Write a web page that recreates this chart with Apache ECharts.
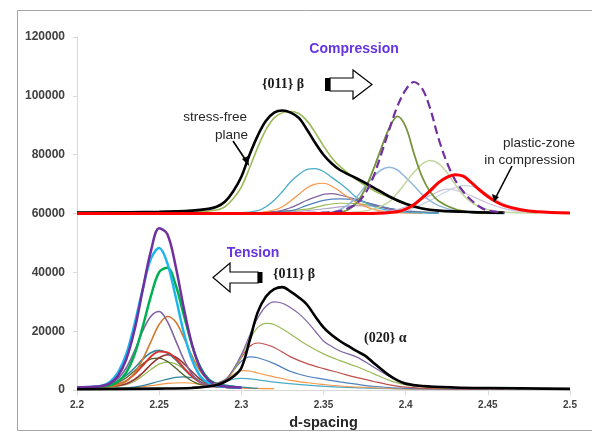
<!DOCTYPE html>
<html><head><meta charset="utf-8">
<script src="https://cdn.jsdelivr.net/npm/echarts@6/dist/echarts.min.js"></script>
<style>html,body{margin:0;padding:0;background:#fff}#c{width:592px;height:435px}</style>
</head><body><div id="c"></div>
<script>
// ---- axis ticks ----
const xTicks = [2.2, 2.25, 2.3, 2.35, 2.4, 2.45, 2.5];
const yTicks = [0, 20000, 40000, 60000, 80000, 100000, 120000];

// ---- Compression (top, baseline 60000) ----
const compFan1 = [[2.28,60000],[2.32,60600],[2.33,62000],[2.34,64500],[2.35,66500],[2.355,66800],[2.36,66300],[2.37,64800],[2.38,63000],[2.39,61500],[2.40,60700],[2.42,60200]];
const compFan2 = [[2.29,60000],[2.33,61000],[2.34,62800],[2.35,64500],[2.36,65000],[2.37,64500],[2.38,63200],[2.39,61800],[2.40,60800],[2.42,60200]];
const compFan3 = [[2.30,60000],[2.34,61500],[2.35,62800],[2.36,63500],[2.37,63400],[2.38,62700],[2.39,61700],[2.40,60800],[2.42,60200]];
const compFan4 = [[2.30,60000],[2.34,61000],[2.36,62300],[2.37,62700],[2.38,62500],[2.39,61800],[2.40,61000],[2.42,60300]];
const compOrange = [[2.25,60000],[2.31,60300],[2.32,61200],[2.325,62300],[2.33,64300],[2.335,66500],[2.34,68800],[2.345,70000],[2.35,70300],[2.355,69300],[2.36,67500],[2.365,65500],[2.37,63800],[2.38,61500],[2.39,60500],[2.41,60100]];
const compCyan = [[2.25,60000],[2.30,60300],[2.31,61000],[2.315,62300],[2.32,64500],[2.325,67500],[2.33,70800],[2.335,73300],[2.34,75000],[2.345,75300],[2.35,74300],[2.355,72300],[2.36,70300],[2.365,68000],[2.37,65500],[2.38,62500],[2.39,61000],[2.40,60400],[2.42,60100]];
const compLavender = [[2.36,60000],[2.39,60800],[2.40,62300],[2.41,64800],[2.42,67500],[2.425,68300],[2.43,68000],[2.44,66000],[2.45,63500],[2.46,61700],[2.47,60700],[2.49,60200]];
const compGray = [[2.38,60000],[2.40,61000],[2.415,64500],[2.425,67500],[2.435,69500],[2.44,69300],[2.45,66500],[2.46,63300],[2.47,61300],[2.48,60500]];
const compLightBlue = [[2.33,60000],[2.355,60500],[2.36,61300],[2.365,63000],[2.37,65500],[2.375,69000],[2.38,72300],[2.385,74800],[2.39,75700],[2.395,74800],[2.40,72300],[2.405,69500],[2.41,66500],[2.415,64300],[2.42,62700],[2.43,61000],[2.44,60300],[2.46,60000]];
const compPaleGreen = [[2.35,60000],[2.37,60500],[2.38,61500],[2.39,64000],[2.395,67000],[2.40,70500],[2.405,74000],[2.41,76800],[2.415,78000],[2.42,77000],[2.425,74000],[2.43,70000],[2.435,66300],[2.44,63800],[2.445,62300],[2.45,61300],[2.46,60500],[2.48,60100]];
const compOliveTall = [[2.34,60000],[2.36,60500],[2.365,61300],[2.37,63500],[2.375,68000],[2.38,74500],[2.385,82000],[2.39,89000],[2.395,93000],[2.40,89500],[2.405,80500],[2.41,72500],[2.415,67300],[2.42,64300],[2.43,61500],[2.44,60500],[2.46,60100]];
const compDashed = [[2.30,60000],[2.35,60300],[2.36,60800],[2.365,61800],[2.37,63300],[2.375,66500],[2.38,72000],[2.385,80000],[2.39,88500],[2.395,96500],[2.40,102000],[2.405,104700],[2.41,102500],[2.415,95500],[2.42,85500],[2.425,77500],[2.43,71500],[2.435,67500],[2.44,64500],[2.445,62300],[2.45,61000],[2.46,60400]];
const compOlive = [[2.20,60300],[2.27,60500],[2.285,61200],[2.29,62300],[2.295,65000],[2.30,69000],[2.305,75500],[2.31,82500],[2.315,88500],[2.32,92500],[2.325,94300],[2.33,94700],[2.335,94000],[2.34,91500],[2.345,87500],[2.35,83000],[2.355,79000],[2.36,76000],[2.37,71500],[2.38,68000],[2.39,65500],[2.40,63200],[2.41,61800],[2.42,61000],[2.44,60500],[2.46,60300]];
const compBlack = [[2.20,60300],[2.25,60600],[2.27,61000],[2.28,61600],[2.285,62300],[2.29,64000],[2.295,67500],[2.30,72500],[2.305,80000],[2.31,86500],[2.315,91500],[2.32,94300],[2.325,95000],[2.33,94300],[2.335,92500],[2.34,88500],[2.345,84000],[2.35,80000],[2.355,77000],[2.36,74800],[2.37,72000],[2.38,69000],[2.39,65800],[2.40,63300],[2.41,61700],[2.42,61000],[2.44,60500],[2.46,60300]];
const compRed = [[2.20,60000],[2.38,60000],[2.395,60600],[2.40,61500],[2.405,63000],[2.41,65300],[2.415,67800],[2.42,70500],[2.425,72300],[2.43,73200],[2.435,72700],[2.44,70500],[2.445,68000],[2.45,65800],[2.455,64000],[2.46,62700],[2.47,61300],[2.48,60600],[2.50,60200]];

// ---- Tension (bottom) ----
const tenSmallOrange = [[2.20,600],[2.23,700],[2.245,1500],[2.255,2300],[2.265,2500],[2.275,2000],[2.285,1200],[2.30,700],[2.32,500]];
const tenSmallTeal = [[2.20,600],[2.23,800],[2.24,1500],[2.25,3000],[2.26,4300],[2.265,4500],[2.27,4200],[2.28,3000],[2.29,1800],[2.30,1000],[2.31,600]];
const tenOlive = [[2.20,800],[2.22,1100],[2.23,1900],[2.235,3000],[2.24,4900],[2.245,7000],[2.25,8800],[2.255,9500],[2.26,8900],[2.265,7200],[2.27,5000],[2.275,3100],[2.28,1800],[2.29,1000],[2.30,700]];
const tenDarkOlive = [[2.20,800],[2.215,1100],[2.22,1600],[2.225,2600],[2.23,4200],[2.235,6500],[2.24,8900],[2.245,10600],[2.25,10900],[2.255,9700],[2.26,7500],[2.265,5100],[2.27,3100],[2.275,1900],[2.28,1300],[2.29,1000],[2.30,700]];
const tenDarkRed = [[2.20,800],[2.22,1200],[2.225,1500],[2.23,2200],[2.235,3600],[2.24,5900],[2.245,8700],[2.25,11000],[2.255,12000],[2.26,11300],[2.265,9000],[2.27,6200],[2.275,3700],[2.28,2000],[2.285,1300],[2.29,1000],[2.30,700]];
const tenTeal = [[2.20,800],[2.21,1100],[2.215,1300],[2.22,1900],[2.225,3100],[2.23,5000],[2.235,7500],[2.24,10500],[2.245,12700],[2.25,13500],[2.255,12600],[2.26,10300],[2.265,7300],[2.27,4600],[2.275,2700],[2.28,1700],[2.29,1000],[2.30,700]];
const tenRed = [[2.20,800],[2.215,1100],[2.22,1400],[2.225,2000],[2.23,3200],[2.235,5400],[2.24,8300],[2.245,11400],[2.25,13100],[2.255,12800],[2.26,10800],[2.265,7600],[2.27,4700],[2.275,2600],[2.28,1500],[2.29,1000],[2.30,700]];
const tenBrown = [[2.20,900],[2.215,1100],[2.22,1200],[2.225,1800],[2.23,3000],[2.235,5700],[2.24,10500],[2.245,16500],[2.25,22300],[2.255,25000],[2.26,23200],[2.265,17800],[2.27,11600],[2.275,6400],[2.28,3400],[2.285,1900],[2.29,1200],[2.30,900]];
const tenPurpleThin = [[2.20,900],[2.215,1500],[2.22,2100],[2.225,4000],[2.23,7600],[2.235,13300],[2.24,20100],[2.245,25100],[2.25,26700],[2.255,23300],[2.26,16900],[2.265,10400],[2.27,5400],[2.275,2700],[2.28,1500],[2.29,1000],[2.30,800]];
const tenGreen = [[2.20,900],[2.21,1000],[2.215,1200],[2.22,1600],[2.225,2900],[2.23,6000],[2.235,12100],[2.24,21500],[2.245,32000],[2.25,40100],[2.255,41600],[2.26,35800],[2.265,25500],[2.27,15300],[2.275,7800],[2.28,3700],[2.285,2000],[2.29,1200],[2.30,900]];
const tenCyan = [[2.20,900],[2.21,1100],[2.215,1500],[2.22,2800],[2.225,6000],[2.23,12300],[2.235,22400],[2.24,34300],[2.245,44700],[2.25,48300],[2.255,43100],[2.26,31800],[2.265,19500],[2.27,10300],[2.275,4700],[2.28,2400],[2.285,1500],[2.29,1100],[2.30,900]];
const tenPurple = [[2.20,900],[2.21,1100],[2.215,1400],[2.22,2300],[2.225,4900],[2.23,10500],[2.235,20400],[2.24,34100],[2.245,47300],[2.25,55000],[2.255,53000],[2.26,42200],[2.265,27900],[2.27,15500],[2.275,7400],[2.28,3400],[2.285,1800],[2.29,1200],[2.30,900]];

// ---- (020) alpha (bottom) ----
const alphaTeal = [[2.27,900],[2.28,1500],[2.29,2800],[2.295,3700],[2.30,4000],[2.31,3500],[2.32,2700],[2.34,1700],[2.36,1000],[2.40,400],[2.45,300]];
const alphaOrange = [[2.27,900],[2.28,1500],[2.29,3000],[2.295,5200],[2.30,6600],[2.305,6500],[2.31,5800],[2.32,4500],[2.33,3300],[2.34,2500],[2.35,1900],[2.36,1400],[2.38,800],[2.40,400],[2.45,300]];
const alphaBlue = [[2.27,900],[2.28,1500],[2.29,3300],[2.295,6500],[2.30,9800],[2.305,11300],[2.31,11000],[2.32,9000],[2.33,6300],[2.34,4700],[2.35,3700],[2.36,2800],[2.37,2000],[2.38,1300],[2.40,600],[2.45,300]];
const alphaRed = [[2.27,900],[2.28,1500],[2.29,3300],[2.295,6500],[2.30,11000],[2.305,14800],[2.31,16000],[2.315,15500],[2.32,14500],[2.33,11300],[2.34,9000],[2.35,7300],[2.36,5800],[2.37,4300],[2.38,3000],[2.39,1800],[2.40,1000],[2.42,500],[2.46,300]];
const alphaOlive = [[2.27,800],[2.28,1500],[2.29,3500],[2.295,6500],[2.30,11500],[2.305,17000],[2.31,21300],[2.315,22700],[2.32,22300],[2.33,19000],[2.34,15300],[2.35,12300],[2.36,10000],[2.37,8000],[2.38,5700],[2.39,3300],[2.40,1800],[2.42,800],[2.46,400]];
const alphaPurple = [[2.27,800],[2.28,1500],[2.29,3500],[2.295,7000],[2.30,12000],[2.305,18500],[2.31,24500],[2.315,28500],[2.32,30000],[2.325,29500],[2.33,28000],[2.335,26000],[2.34,23300],[2.345,20000],[2.35,16700],[2.355,14800],[2.36,13300],[2.37,11300],[2.38,8000],[2.39,4700],[2.40,2300],[2.41,1300],[2.43,600],[2.47,400]];
const alphaBlack = [[2.20,300],[2.25,500],[2.27,700],[2.28,1200],[2.285,1700],[2.29,2800],[2.295,4500],[2.30,7500],[2.305,16700],[2.31,26500],[2.315,31800],[2.32,34300],[2.325,35000],[2.33,33500],[2.335,31500],[2.34,29000],[2.345,25000],[2.35,21300],[2.355,18700],[2.36,16700],[2.365,15000],[2.37,13300],[2.375,11800],[2.38,9500],[2.385,7200],[2.39,5000],[2.395,3300],[2.40,2200],[2.41,1400],[2.43,900],[2.45,700],[2.50,400]];

// ---- series styles (order = drawing order) ----
const lines = [
  [tenSmallOrange,'#f79646',1.2],[tenSmallTeal,'#31859c',1.2],[tenOlive,'#9bbb59',1.3],[tenDarkOlive,'#4f6228',1.3],
  [tenDarkRed,'#943634',1.6],[tenTeal,'#31859c',1.6],[tenRed,'#e0302a',1.8],[tenBrown,'#d07a30',1.6],
  [tenPurpleThin,'#8064a2',1.6],[tenGreen,'#00b050',2.5],[tenCyan,'#1fb6ee',2.5],[tenPurple,'#7030a0',2.5],
  [alphaTeal,'#4bacc6',1.2],[alphaOrange,'#f79646',1.2],[alphaBlue,'#4f81bd',1.2],[alphaRed,'#c0504d',1.2],
  [alphaOlive,'#9bbb59',1.2],[alphaPurple,'#8064a2',1.2],[alphaBlack,'#000000',2.6],
  [compFan4,'#b3a2c7',1.2],[compFan3,'#9bbb59',1.2],[compFan2,'#4f81bd',1.2],[compFan1,'#8064a2',1.2],
  [compOrange,'#f79646',1.2],[compCyan,'#4bacc6',1.3],[compLavender,'#ccc1da',1.2],[compGray,'#c6d3e4',1.2],
  [compLightBlue,'#93b9dd',1.5],[compPaleGreen,'#c3d69b',1.5],[compOliveTall,'#77933c',1.8],
  [compOlive,'#9bbb59',1.6],[compBlack,'#000000',2.6],[compDashed,'#7030a0',2.2,'dashed'],[compRed,'#ff0000',3]
];

const chart = echarts.init(document.getElementById('c'), null, {renderer:'canvas'});
const lbl = {fontFamily:'Liberation Sans', fontWeight:'bold', color:'#404040'};
const option = {
  animation:false,
  grid:{left:77, right:22, top:37, bottom:38},
  xAxis:{type:'value', min:2.2, max:2.5, interval:0.05,
    name:'d-spacing', nameLocation:'middle', nameGap:17,
    nameTextStyle:{fontFamily:'Liberation Sans', fontWeight:'bold', fontSize:14.5, color:'#262626'},
    axisLine:{show:true, lineStyle:{color:'#d9d9d9'}},
    axisTick:{show:true, length:5, lineStyle:{color:'#d9d9d9'}},
    splitLine:{show:false},
    axisLabel:Object.assign({fontSize:10, margin:10, formatter:v=>String(+v.toFixed(2)),
      customValues:xTicks}, lbl)},
  yAxis:{type:'value', min:0, max:120000, interval:20000,
    axisLine:{show:true, lineStyle:{color:'#d9d9d9'}},
    axisTick:{show:true, length:4, lineStyle:{color:'#d9d9d9'}},
    splitLine:{show:false},
    axisLabel:Object.assign({fontSize:12, margin:12, formatter:v=>String(v)}, lbl)},
  series: lines.map((l,i)=>({type:'line', data:l[0], showSymbol:false, smooth:0.35, z:2,
    lineStyle:{color:l[1], width:l[2], type:l[3]||'solid'}, silent:true})),
  graphic:[
    {type:'rect', shape:{x:17.5,y:10.5,width:600,height:420}, style:{fill:'none', stroke:'#a6a6a6', lineWidth:1}, z:-1},
    {type:'text', x:354, y:49, style:{text:'Compression', font:'bold 14px "Liberation Sans"', fill:'#6535e0', align:'center', verticalAlign:'middle'}},
    {type:'text', x:253, y:253, style:{text:'Tension', font:'bold 14px "Liberation Sans"', fill:'#6535e0', align:'center', verticalAlign:'middle'}},
    {type:'text', x:262, y:84, style:{text:'{011} β', font:'bold 14px "Liberation Serif"', fill:'#1a1a1a', align:'left', verticalAlign:'middle'}},
    {type:'text', x:273, y:274, style:{text:'{011} β', font:'bold 14px "Liberation Serif"', fill:'#1a1a1a', align:'left', verticalAlign:'middle'}},
    {type:'text', x:364, y:338, style:{text:'(020} α', font:'bold 14px "Liberation Serif"', fill:'#1a1a1a', align:'left', verticalAlign:'middle'}},
    {type:'text', x:247, y:117, style:{text:'stress-free', font:'13.5px "Liberation Sans"', fill:'#262626', align:'right', verticalAlign:'middle'}},
    {type:'text', x:248, y:135, style:{text:'plane', font:'13.5px "Liberation Sans"', fill:'#262626', align:'right', verticalAlign:'middle'}},
    {type:'text', x:575, y:143, style:{text:'plastic-zone', font:'13.5px "Liberation Sans"', fill:'#262626', align:'right', verticalAlign:'middle'}},
    {type:'text', x:575, y:160, style:{text:'in compression', font:'13.5px "Liberation Sans"', fill:'#262626', align:'right', verticalAlign:'middle'}},
    // callout arrows
    {type:'line', shape:{x1:233,y1:141,x2:247,y2:162}, style:{stroke:'#000', lineWidth:1.6}, z:10},
    {type:'polygon', shape:{points:[[249,166],[242,159],[248,156]]}, style:{fill:'#000'}, z:10},
    {type:'line', shape:{x1:512,y1:166,x2:496,y2:197}, style:{stroke:'#000', lineWidth:1.6}, z:10},
    {type:'polygon', shape:{points:[[494,202],[492,194],[499,197]]}, style:{fill:'#000'}, z:10},
    // block arrows
    {type:'polygon', shape:{points:[[330,78],[353,78],[353,70],[372,84.5],[353,99],[353,91],[330,91]]}, style:{fill:'#fff', stroke:'#000', lineWidth:1.2}, z:10},
    {type:'rect', shape:{x:325,y:78,width:5,height:13}, style:{fill:'#000'}, z:10},
    {type:'polygon', shape:{points:[[258,272],[230,272],[230,263],[213,277.5],[230,292],[230,283],[258,283]]}, style:{fill:'#fff', stroke:'#000', lineWidth:1.2}, z:10},
    {type:'rect', shape:{x:258,y:272,width:4.5,height:11}, style:{fill:'#000'}, z:10}
  ]
};
chart.setOption(option);
</script></body></html>
